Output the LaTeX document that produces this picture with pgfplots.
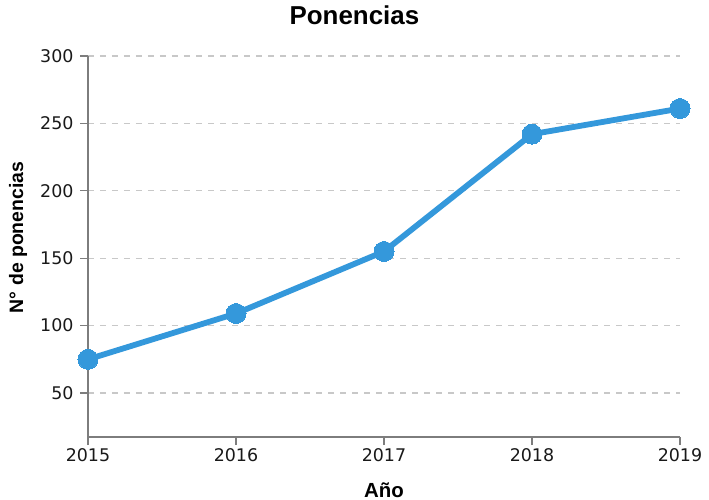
\documentclass[border=0pt]{standalone}
\usepackage{pgfplots}
\pgfplotsset{compat=1.18}
\usepackage{fontspec}
\setmainfont{DejaVu Sans}
\newfontfamily\labelfont{Liberation Sans}
\definecolor{lineblue}{RGB}{52,152,219}
\definecolor{axisgray}{RGB}{125,125,125}
\definecolor{gridgray}{RGB}{200,200,200}
\begin{document}
\begin{tikzpicture}
\path[use as bounding box] (-88bp,-63bp) rectangle (621bp,437bp);
\begin{axis}[
  at={(0,0)}, anchor=south west,
  scale only axis, width=592bp, height=381bp,
  xmin=2015, xmax=2019, ymin=17.4, ymax=300,
  xtick={2015,2016,2017,2018,2019},
  ytick={50,100,150,200,250,300},
  x tick label style={/pgf/number format/1000 sep={}},
  y tick label style={xshift=-3bp},
  axis x line*=bottom, axis y line*=left,
  axis line style={axisgray, line width=1.6bp, -},
  tick style={axisgray, line width=1.2bp},
  tick align=outside, major tick length=8bp,
  ymajorgrids,
  grid style={gridgray, dash pattern=on 6bp off 6bp, line width=1.3bp},
  /pgf/number format/assume math mode=true,
  ticklabel style={font=\fontsize{17.5}{20}\selectfont, text=black!90},
  clip=false,
  title={Ponencias},
  title style={at={(axis description cs:0.450,1.068)}, anchor=base, font=\labelfont\bfseries\fontsize{26}{30}\selectfont},
  xlabel={Año},
  xlabel style={at={(axis description cs:0.5,-0.1575)}, anchor=base, font=\labelfont\bfseries\fontsize{20.5}{24}\selectfont},
  ylabel={N° de ponencias},
  ylabel style={at={(axis description cs:-0.118,0.524)}, anchor=center, rotate=0, font=\labelfont\bfseries\fontsize{19.5}{23}\selectfont},
]
\addplot[lineblue, line width=5.8bp, mark=*, mark size=10bp, mark options={fill=lineblue, draw=lineblue, line width=0pt}]
  coordinates {(2015,75) (2016,109) (2017,155) (2018,242) (2019,261)};
\end{axis}
\end{tikzpicture}
\end{document}
